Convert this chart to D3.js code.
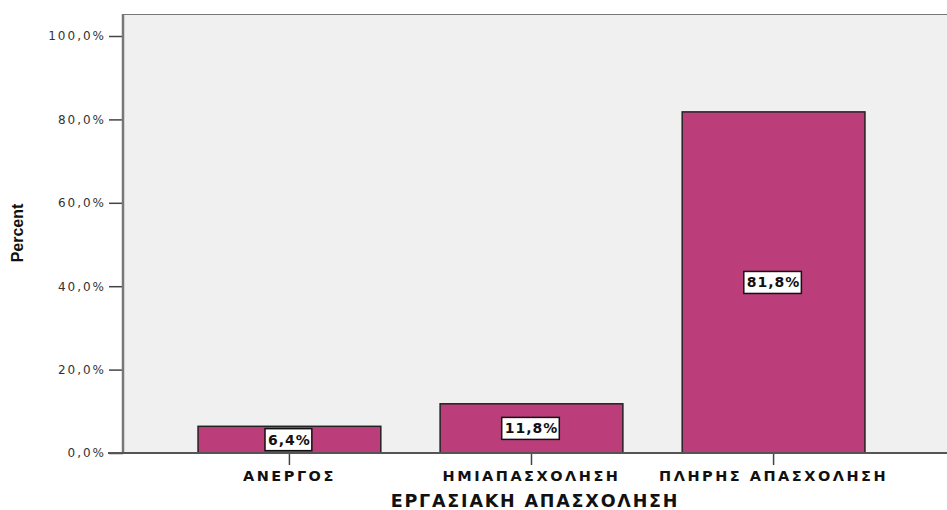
<!DOCTYPE html>
<html lang="el">
<head>
    <meta charset="UTF-8">
    <title>ΕΡΓΑΣΙΑΚΗ ΑΠΑΣΧΟΛΗΣΗ</title>
    <script src="https://cdn.jsdelivr.net/npm/d3@7"></script>
    <style>
        body { margin: 0; background: #fff; }
        text { font-family: "DejaVu Sans", Verdana, sans-serif; }
        .tick-label { font-size: 12px; fill: #333; letter-spacing: 2px; }
        .cat-label { font-size: 14.5px; font-weight: bold; fill: #111; letter-spacing: 2.5px; }
        .bar-label { font-size: 14px; font-weight: bold; fill: #111; letter-spacing: 1px; }
    </style>
</head>
<body>
    <svg width="947" height="510"></svg>
    <script>
        const categories = ["ΑΝΕΡΓΟΣ", "ΗΜΙΑΠΑΣΧΟΛΗΣΗ", "ΠΛΗΡΗΣ ΑΠΑΣΧΟΛΗΣΗ"];
        const percents = [6.4, 11.8, 81.8];
        const yTicks = [0, 20, 40, 60, 80, 100];

        const svg = d3.select("svg");
        const plotLeft = 123, plotRight = 947, plotTop = 14, plotBottom = 453;
        const fmt = v => d3.format(".1f")(v).replace(".", ",") + "%";

        const x = d3.scaleBand()
            .domain(categories)
            .range([plotLeft, 940])
            .paddingInner(0.245)
            .paddingOuter(0.31);

        const y = d3.scaleLinear()
            .domain([0, 100])
            .range([plotBottom, 36]);

        // plot background
        svg.append("rect")
            .attr("x", plotLeft).attr("y", plotTop)
            .attr("width", plotRight - plotLeft).attr("height", plotBottom - plotTop)
            .attr("fill", "#f0f0f0");

        // top border
        svg.append("line")
            .attr("x1", plotLeft).attr("x2", plotRight)
            .attr("y1", plotTop + 0.5).attr("y2", plotTop + 0.5)
            .attr("stroke", "#777").attr("stroke-width", 1);

        // y axis
        const yAxis = svg.append("g")
            .attr("transform", `translate(${plotLeft},0)`)
            .call(d3.axisLeft(y).tickValues(yTicks).tickSize(14).tickPadding(3).tickFormat(fmt));
        yAxis.select(".domain").remove();
        yAxis.selectAll(".tick line").attr("stroke", "#444").attr("stroke-width", 1.5);
        yAxis.selectAll(".tick text").attr("class", "tick-label").attr("font-size", null).attr("font-family", null);

        svg.append("line")
            .attr("x1", plotLeft).attr("x2", plotLeft)
            .attr("y1", plotTop).attr("y2", plotBottom)
            .attr("stroke", "#777").attr("stroke-width", 2.5);

        // bars
        svg.selectAll(".bar")
            .data(percents)
            .enter()
            .append("rect")
            .attr("class", "bar")
            .attr("x", (d, i) => x(categories[i]))
            .attr("y", d => y(d))
            .attr("width", x.bandwidth())
            .attr("height", d => y(0) - y(d))
            .attr("fill", "#bb3e7a")
            .attr("stroke", "#222")
            .attr("stroke-width", 1.5);

        // x axis
        const xAxis = svg.append("g")
            .attr("transform", `translate(0,${plotBottom})`)
            .call(d3.axisBottom(x).tickSize(12).tickPadding(6));
        xAxis.select(".domain").remove();
        xAxis.selectAll(".tick line").attr("stroke", "#444").attr("stroke-width", 1.5);
        xAxis.selectAll(".tick text").attr("class", "cat-label").attr("font-size", null).attr("font-family", null);

        svg.append("line")
            .attr("x1", 108).attr("x2", plotRight)
            .attr("y1", plotBottom).attr("y2", plotBottom)
            .attr("stroke", "#555").attr("stroke-width", 2);

        // value labels in boxes
        const labels = svg.selectAll(".val")
            .data(percents)
            .enter()
            .append("g")
            .attr("class", "val")
            .attr("transform", (d, i) => `translate(${x(categories[i]) + x.bandwidth() / 2},${(y(d) + y(0)) / 2})`);

        labels.append("text")
            .attr("class", "bar-label")
            .attr("text-anchor", "middle")
            .attr("dy", "0.36em")
            .text(d => fmt(d));

        labels.each(function () {
            const g = d3.select(this);
            const bb = g.select("text").node().getBBox();
            g.insert("rect", "text")
                .attr("x", bb.x - 3)
                .attr("y", -11)
                .attr("width", bb.width + 4)
                .attr("height", 22)
                .attr("fill", "#fff")
                .attr("stroke", "#111")
                .attr("stroke-width", 1.5);
        });

        // axis titles
        svg.append("text")
            .attr("transform", "translate(23,233) rotate(-90)")
            .attr("text-anchor", "middle")
            .style("font-family", "'Liberation Sans Narrow', 'Arial Narrow', sans-serif")
            .style("font-stretch", "condensed")
            .style("font-weight", "bold")
            .style("font-size", "16px")
            .attr("fill", "#111")
            .text("Percent");

        svg.append("text")
            .attr("x", (plotLeft + plotRight) / 2)
            .attr("y", 507)
            .attr("text-anchor", "middle")
            .style("font-weight", "bold")
            .style("font-size", "17.5px")
            .style("letter-spacing", "1.8px")
            .attr("fill", "#111")
            .text("ΕΡΓΑΣΙΑΚΗ ΑΠΑΣΧΟΛΗΣΗ");
    </script>
</body>
</html>
